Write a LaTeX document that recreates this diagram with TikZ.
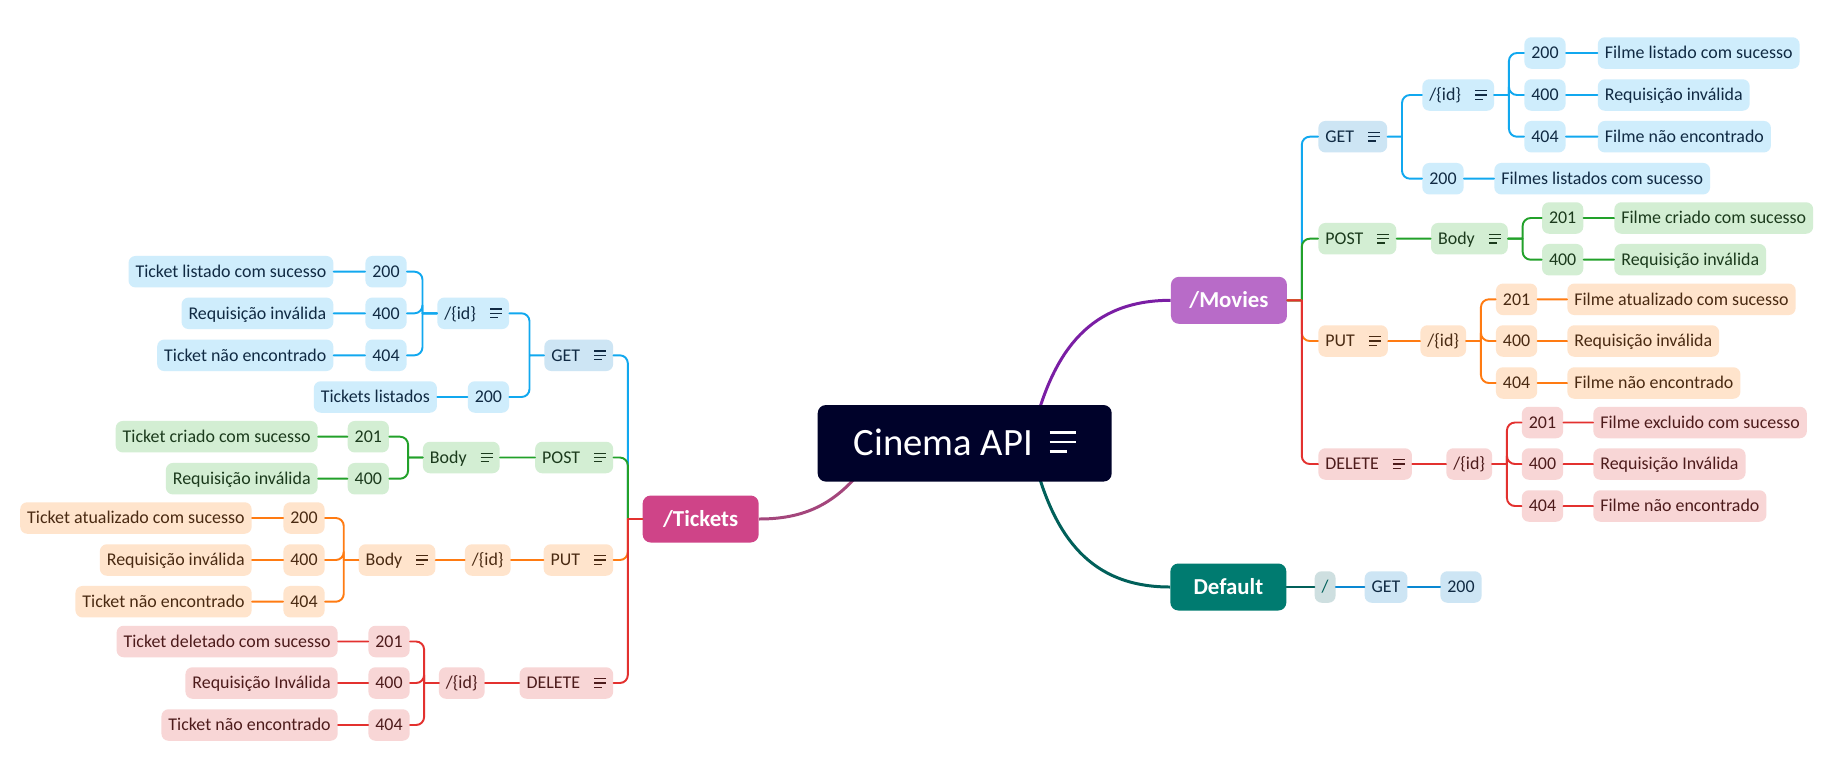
\documentclass[tikz,border=0pt]{standalone}
\usepackage{fontspec}
\setmainfont{Carlito}
\usetikzlibrary{backgrounds}

% icone delle note (tre righe)
\newcommand{\notas}{\hspace{8pt}\raisebox{.5pt}{\vbox{\hrule width 6.8pt height .75pt\vskip 1.7pt
  \hrule width 6.8pt height .75pt\vskip 1.7pt\hrule width 4.5pt height .75pt}}\hspace{1.2pt}}
\newcommand{\notasGrande}{\hspace{9.6pt}\raisebox{1.5pt}{\vbox{\hrule width 14.9pt height 1.5pt\vskip 3.9pt
  \hrule width 14.9pt height 1.5pt\vskip 3.9pt\hrule width 9.8pt height 1.5pt}}}

\tikzset{
  caixa/.style={rounded corners=.14cm,inner xsep=.14cm,inner ysep=0pt,
    minimum height=.63cm,text height=6.6pt,text depth=0pt,
    font=\fontsize{10.2}{12}\selectfont},
  azul/.style={caixa,fill=azulFundo,text=azulTexto},
  azulRamo/.style={caixa,fill=azulFundoRamo,text=azulTexto},
  verde/.style={caixa,fill=verdeFundo,text=verdeTexto},
  laranja/.style={caixa,fill=laranjaFundo,text=laranjaTexto},
  vermelho/.style={caixa,fill=vermelhoFundo,text=vermelhoTexto},
  topico/.style={rounded corners=.16cm,minimum width=2.32cm,minimum height=.94cm,
    text height=8.4pt,text depth=0pt,text=white,
    font=\fontsize{13}{15}\selectfont\bfseries},
  ligAzul/.style={draw=azulLinha,line width=1.1pt},
  ligVerde/.style={draw=verdeLinha,line width=1.1pt},
  ligLaranja/.style={draw=laranjaLinha,line width=1.1pt},
  ligVermelho/.style={draw=vermelhoLinha,line width=1.1pt},
  curva/.style={line width=1.7pt},
  ramoD/.style={to path={-- ++(14.5,0) ++(0,0) [rounded corners=.16cm] |- (\tikztotarget)}},
  ramoE/.style={to path={-- ++(-14.5,0) ++(0,0) [rounded corners=.16cm] |- (\tikztotarget)}},
}

\begin{document}
\begin{tikzpicture}[x=.02cm,y=-.02cm,line join=round,line cap=round]
  \definecolor{azulLinha}{HTML}{11A8EF}
  \definecolor{azulFundo}{HTML}{CFEDFC}
  \definecolor{azulFundoRamo}{HTML}{CDE5F4}
  \definecolor{azulTexto}{HTML}{102A43}
  \definecolor{verdeLinha}{HTML}{22A12A}
  \definecolor{verdeFundo}{HTML}{D3EED3}
  \definecolor{verdeTexto}{HTML}{1B3A1C}
  \definecolor{laranjaLinha}{HTML}{FF7B12}
  \definecolor{laranjaFundo}{HTML}{FFE4CC}
  \definecolor{laranjaTexto}{HTML}{4A2A12}
  \definecolor{vermelhoLinha}{HTML}{E3312F}
  \definecolor{vermelhoFundo}{HTML}{F8D6D6}
  \definecolor{vermelhoTexto}{HTML}{4D1B1B}
  \definecolor{centroFundo}{HTML}{00022A}
  \definecolor{filmesFundo}{HTML}{B86BC8}
  \definecolor{filmesLinha}{HTML}{7A1EA4}
  \definecolor{ingressosFundo}{HTML}{CF4488}
  \definecolor{ingressosLinha}{HTML}{A4467C}
  \definecolor{padraoFundo}{HTML}{007B70}
  \definecolor{padraoLinha}{HTML}{01605A}
  \definecolor{raizFundo}{HTML}{CEDFE0}
  \definecolor{padraoAzul}{HTML}{0A88D2}
  \useasboundingbox (0,0) rectangle (1834,768);

  \node[rounded corners=.16cm,fill=centroFundo,text=white,minimum width=5.88cm,
    minimum height=1.53cm,text height=14pt,text depth=0pt,
    font=\fontsize{22}{26}\selectfont] (api) at (964.7,443.3) {Cinema API\notasGrande};

  % /Movies
  \node[topico,fill=filmesFundo,anchor=west] (filmes) at (1170.6,300.3) {/Movies};
  \node[azulRamo,anchor=west] (fGet) at (1318,136.7) {GET\notas};
  \node[azul,anchor=west] (fGetId) at (1422,95) {/\{id\}\notas};
  \node[azul,anchor=west] (fGet200) at (1422,178.7) {200};
  \node[azul,anchor=west] (fGet200m) at (1494,178.7) {Filmes listados com sucesso};
  \draw[ligAzul] (filmes.east) to[ramoD] (fGet.west);
  \draw[ligAzul] (fGet.east) to[ramoD] (fGetId.west) (fGet.east) to[ramoD] (fGet200.west)
    (fGet200.east) -- (fGet200m.west);
  \foreach \cod/\y/\msg in {200/53/Filme listado com sucesso,400/95/Requisição inválida,
                            404/136.7/Filme não encontrado}{
    \node[azul,anchor=west] (fId\cod) at (1524,\y) {\cod};
    \node[azul,anchor=west] (fIdM\cod) at (1597.5,\y) {\msg};
    \draw[ligAzul] (fGetId.east) to[ramoD] (fId\cod.west) (fId\cod.east) -- (fIdM\cod.west);
  }

  \node[verde,anchor=west] (fPost) at (1318,238.7) {POST\notas};
  \node[verde,anchor=west] (fBody) at (1430.7,238.7) {Body\notas};
  \draw[ligVerde] (filmes.east) to[ramoD] (fPost.west) (fPost.east) -- (fBody.west);
  \foreach \cod/\y/\msg in {201/218/Filme criado com sucesso,400/259.7/Requisição inválida}{
    \node[verde,anchor=west] (fPost\cod) at (1541.7,\y) {\cod};
    \node[verde,anchor=west] (fPostM\cod) at (1614,\y) {\msg};
    \draw[ligVerde] (fBody.east) to[ramoD] (fPost\cod.west) (fPost\cod.east) -- (fPostM\cod.west);
  }

  \node[laranja,anchor=west] (fPut) at (1318,341) {PUT\notas};
  \node[laranja,anchor=west] (fPutId) at (1420,341) {/\{id\}};
  \draw[ligLaranja] (filmes.east) to[ramoD] (fPut.west) (fPut.east) -- (fPutId.west);
  \foreach \cod/\y/\msg in {201/299.3/Filme atualizado com sucesso,400/341/Requisição inválida,
                            404/383/Filme não encontrado}{
    \node[laranja,anchor=west] (fPut\cod) at (1495.6,\y) {\cod};
    \node[laranja,anchor=west] (fPutM\cod) at (1567,\y) {\msg};
    \draw[ligLaranja] (fPutId.east) to[ramoD] (fPut\cod.west) (fPut\cod.east) -- (fPutM\cod.west);
  }

  \node[vermelho,anchor=west] (fDel) at (1318,464) {DELETE\notas};
  \node[vermelho,anchor=west] (fDelId) at (1446,464) {/\{id\}};
  \draw[ligVermelho] (filmes.east) to[ramoD] (fDel.west) (fDel.east) -- (fDelId.west);
  \foreach \cod/\y/\msg in {201/422.5/Filme excluido com sucesso,400/464/Requisição Inválida,
                            404/506/Filme não encontrado}{
    \node[vermelho,anchor=west] (fDel\cod) at (1521.5,\y) {\cod};
    \node[vermelho,anchor=west] (fDelM\cod) at (1593,\y) {\msg};
    \draw[ligVermelho] (fDelId.east) to[ramoD] (fDel\cod.west) (fDel\cod.east) -- (fDelM\cod.west);
  }

  % Default
  \node[topico,fill=padraoFundo,anchor=west] (padrao) at (1170,587) {Default};
  \node[caixa,fill=raizFundo,text=padraoLinha,anchor=west] (raiz) at (1314.3,587) {/};
  \node[azulRamo,anchor=west] (pGet) at (1364.3,587) {GET};
  \node[azulRamo,anchor=west] (p200) at (1440,587) {200};
  \draw[draw=padraoLinha,line width=1.1pt] (padrao.east) -- (raiz.west);
  \draw[draw=padraoAzul,line width=1.1pt] (raiz.east) -- (pGet.west) (pGet.east) -- (p200.west);

  % /Tickets
  \node[topico,fill=ingressosFundo,anchor=east] (ingressos) at (759,519) {/Tickets};
  \node[azulRamo,anchor=east] (tGet) at (613.5,355.3) {GET\notas};
  \node[azul,anchor=east] (tGetId) at (509.4,313.3) {/\{id\}\notas};
  \node[azul,anchor=east] (tGet200) at (509.4,397) {200};
  \node[azul,anchor=east] (tGet200m) at (437.3,397) {Tickets listados};
  \draw[ligAzul] (ingressos.west) to[ramoE] (tGet.east);
  \draw[ligAzul] (tGet.west) to[ramoE] (tGetId.east) (tGet.west) to[ramoE] (tGet200.east)
    (tGet200.west) -- (tGet200m.east);
  \foreach \cod/\y/\msg in {200/271.7/Ticket listado com sucesso,400/313.3/Requisição inválida,
                            404/355.3/Ticket não encontrado}{
    \node[azul,anchor=east] (tId\cod) at (407,\y) {\cod};
    \node[azul,anchor=east] (tIdM\cod) at (333.7,\y) {\msg};
    \draw[ligAzul] (tGetId.west) to[ramoE] (tId\cod.east) (tId\cod.west) -- (tIdM\cod.east);
  }

  \node[verde,anchor=east] (tPost) at (613.5,457.5) {POST\notas};
  \node[verde,anchor=east] (tBody) at (500,457.5) {Body\notas};
  \draw[ligVerde] (ingressos.west) to[ramoE] (tPost.east) (tPost.west) -- (tBody.east);
  \foreach \cod/\y/\msg in {201/436.7/Ticket criado com sucesso,400/478.7/Requisição inválida}{
    \node[verde,anchor=east] (tPost\cod) at (389.3,\y) {\cod};
    \node[verde,anchor=east] (tPostM\cod) at (318,\y) {\msg};
    \draw[ligVerde] (tBody.west) to[ramoE] (tPost\cod.east) (tPost\cod.west) -- (tPostM\cod.east);
  }

  \node[laranja,anchor=east] (tPut) at (613.5,560) {PUT\notas};
  \node[laranja,anchor=east] (tPutId) at (511,560) {/\{id\}};
  \node[laranja,anchor=east] (tPutBody) at (435.7,560) {Body\notas};
  \draw[ligLaranja] (ingressos.west) to[ramoE] (tPut.east) (tPut.west) -- (tPutId.east)
    (tPutId.west) -- (tPutBody.east);
  \foreach \cod/\y/\msg in {200/518/Ticket atualizado com sucesso,400/560/Requisição inválida,
                            404/601.7/Ticket não encontrado}{
    \node[laranja,anchor=east] (tPut\cod) at (325,\y) {\cod};
    \node[laranja,anchor=east] (tPutM\cod) at (252,\y) {\msg};
    \draw[ligLaranja] (tPutBody.west) to[ramoE] (tPut\cod.east) (tPut\cod.west) -- (tPutM\cod.east);
  }

  \node[vermelho,anchor=east] (tDel) at (613.5,683) {DELETE\notas};
  \node[vermelho,anchor=east] (tDelId) at (485,683) {/\{id\}};
  \draw[ligVermelho] (ingressos.west) to[ramoE] (tDel.east) (tDel.west) -- (tDelId.east);
  \foreach \cod/\y/\msg in {201/641.5/Ticket deletado com sucesso,400/683/Requisição Inválida,
                            404/725/Ticket não encontrado}{
    \node[vermelho,anchor=east] (tDel\cod) at (410,\y) {\cod};
    \node[vermelho,anchor=east] (tDelM\cod) at (338,\y) {\msg};
    \draw[ligVermelho] (tDelId.west) to[ramoE] (tDel\cod.east) (tDel\cod.west) -- (tDelM\cod.east);
  }

  % rami principali sotto il nodo centrale
  \begin{scope}[on background layer]
    \fill[white] (0,0) rectangle (1834,768);
    \draw[curva,filmesLinha] ([shift={(70,-18)}]api.center)
      .. controls +(20,-75) and +(-80,0) .. (filmes.west);
    \draw[curva,padraoLinha] ([shift={(70,18)}]api.center)
      .. controls +(20,75) and +(-80,0) .. (padrao.west);
    \draw[curva,ingressosLinha] ([shift={(-95,17)}]api.center)
      .. controls +(-30,40) and +(51,0) .. (ingressos.east);
  \end{scope}
\end{tikzpicture}
\end{document}
